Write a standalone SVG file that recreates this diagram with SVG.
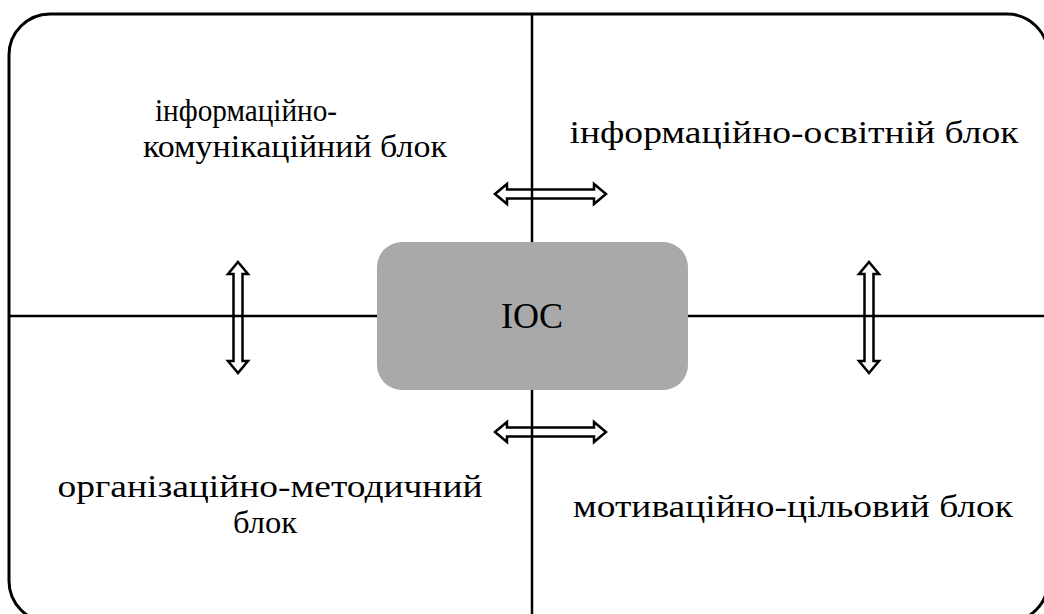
<svg xmlns="http://www.w3.org/2000/svg" width="1044" height="614" viewBox="0 0 1044 614">
<defs>
<polygon id="ah" points="-55.5,0 -43.5,-10 -43.5,-4.5 43.5,-4.5 43.5,-10 55.5,0 43.5,10 43.5,4.5 -43.5,4.5 -43.5,10" fill="none" stroke="#000" stroke-width="2.5"/>
</defs>
<rect x="0" y="0" width="1044" height="614" fill="#fff"/>
<g id="frame"><rect x="9" y="14" width="1039" height="608" rx="41" ry="41" fill="none" stroke="#000" stroke-width="3"/></g>
<g id="connectors" stroke="#000" stroke-width="2.5" fill="none">
<line x1="532" y1="14" x2="532" y2="242"/>
<line x1="532" y1="390" x2="532" y2="622"/>
<line x1="9" y1="316" x2="377" y2="316"/>
<line x1="688" y1="316" x2="1048" y2="316"/>
<use href="#ah" transform="translate(550.5,194)"/>
<use href="#ah" transform="translate(550.5,432)"/>
<use href="#ah" transform="translate(238,317.5) rotate(90)"/>
<use href="#ah" transform="translate(869,317.5) rotate(90)"/>
</g>
<g font-family="'Liberation Serif', 'DejaVu Serif', serif" font-size="32" fill="#000" text-anchor="middle">
<g id="center"><rect x="377" y="242" width="311" height="148" rx="25" ry="25" fill="#a9a9a9"/><text x="532" y="328" font-size="36">IOC</text></g>
<g id="tl"><text x="246" y="121" textLength="182" lengthAdjust="spacingAndGlyphs">інформаційно-</text><text x="295" y="157" textLength="304" lengthAdjust="spacingAndGlyphs">комунікаційний блок</text></g>
<g id="tr"><text x="794" y="143" textLength="449" lengthAdjust="spacingAndGlyphs">інформаційно-освітній блок</text></g>
<g id="bl"><text x="270" y="497" textLength="425" lengthAdjust="spacingAndGlyphs">організаційно-методичний</text><text x="265" y="533" textLength="64" lengthAdjust="spacingAndGlyphs">блок</text></g>
<g id="br"><text x="793" y="517" textLength="440" lengthAdjust="spacingAndGlyphs">мотиваційно-цільовий блок</text></g>
</g>
</svg>
